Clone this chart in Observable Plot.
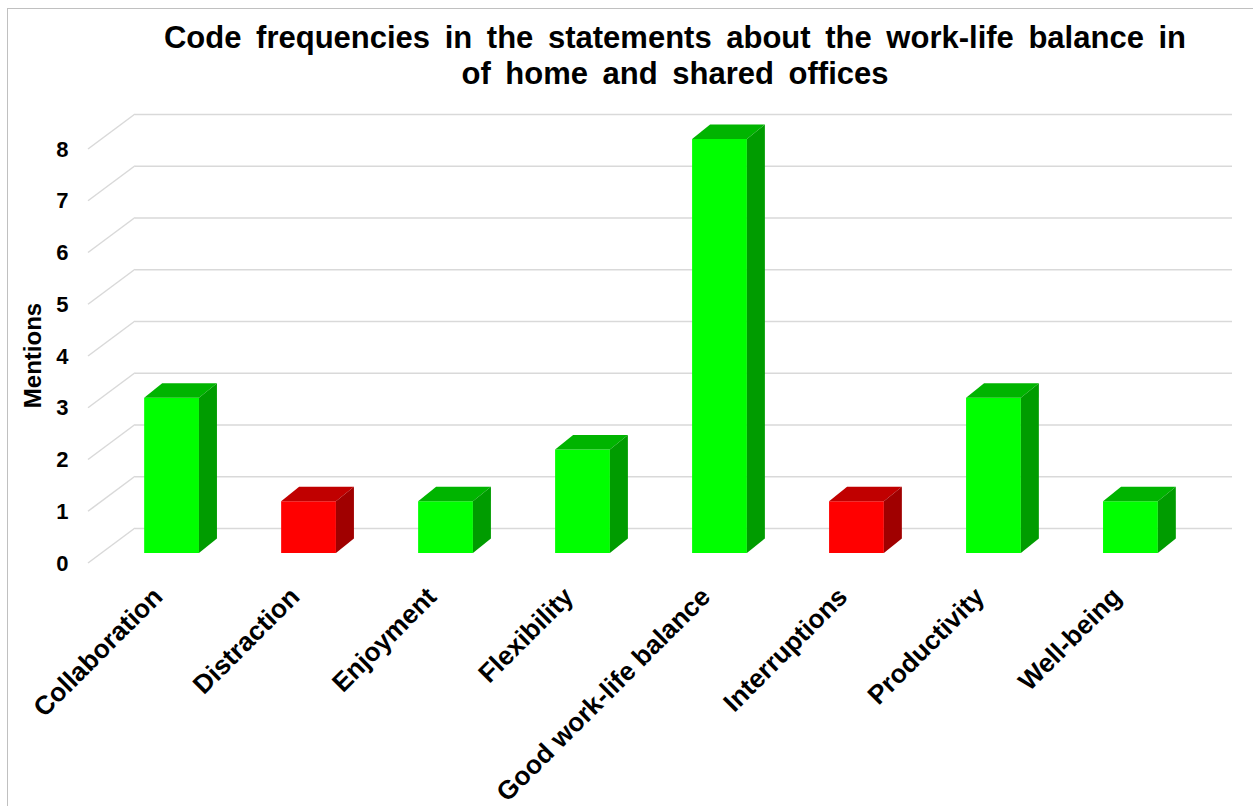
<!DOCTYPE html>
<html>
<head>
<meta charset="utf-8">
<script src="https://cdn.jsdelivr.net/npm/d3@7"></script>
<script src="https://cdn.jsdelivr.net/npm/@observablehq/plot@0.6"></script>
<style>
  html, body { margin: 0; padding: 0; background: #fff; }
  #wrap { position: relative; width: 1253px; height: 806px; overflow: hidden; background: #fff; }
  #frame { position: absolute; left: 7px; top: 8px; width: 1260px; height: 820px; border: 1.5px solid #c0c0c0; box-sizing: border-box; pointer-events: none; }
  #title { position: absolute; left: 100px; width: 1150px; top: 20px; text-align: center;
           font-family: "Liberation Sans", Arial, sans-serif; font-weight: bold; font-size: 31px; line-height: 36px; color: #000; word-spacing: 6px; }
  #chart { position: absolute; left: 0; top: 0; }
</style>
</head>
<body>
<div id="wrap">
  <div id="frame"></div>
  <div id="chart"></div>
  <div id="title">Code frequencies in the statements about the work-life balance in<br>of home and shared offices</div>
</div>
<script>
const categories = ["Collaboration", "Distraction", "Enjoyment", "Flexibility", "Good work-life balance", "Interruptions", "Productivity", "Well-being"];
const mentions = [3, 1, 1, 2, 8, 1, 3, 1];
const tone = ["positive", "negative", "positive", "positive", "positive", "negative", "positive", "positive"];
const yTicks = [0, 1, 2, 3, 4, 5, 6, 7, 8];
const yLabel = "Mentions";

const palette = {
  positive: {front: "#00ff00", top: "#00b400", side: "#009c00"},
  negative: {front: "#ff0000", top: "#c00000", side: "#a00000"}
};
const depth = {dx: 18, dy: -14.5};      // bar depth (3D look)
const wall = {dx: 47, dy: -35};         // floor depth from front axis to back wall

const data = categories.map((c, i) => ({category: c, mentions: mentions[i], tone: tone[i]}));

function bandwidthOf(scales) {
  if (scales.x && typeof scales.x.bandwidth === "function") return scales.x.bandwidth();
  if (scales.scales && scales.scales.x && scales.scales.x.bandwidth != null) return scales.scales.x.bandwidth;
  return 55;
}

// diagonal floor/side-wall gridlines
function sideGrid(index, scales, values, dimensions) {
  const g = d3.create("svg:g").attr("stroke", "#d9d9d9").attr("stroke-width", 1.5).attr("fill", "none");
  const x0 = dimensions.marginLeft;
  for (const v of yTicks) {
    const yf = scales.y(v) + 10;
    g.append("line").attr("x1", x0).attr("y1", yf).attr("x2", x0 + wall.dx).attr("y2", yf + wall.dy);
  }
  return g.node();
}

// top and side faces of the bars
function barFaces(index, scales, values, dimensions) {
  const g = d3.create("svg:g");
  const bw = bandwidthOf(scales);
  for (const d of data) {
    const xl = scales.x(d.category), xr = xl + bw;
    const yt = scales.y(d.mentions), yb = scales.y(0);
    const c = palette[d.tone];
    g.append("polygon")
      .attr("points", [[xl, yt], [xr, yt], [xr + depth.dx, yt + depth.dy], [xl + depth.dx, yt + depth.dy]].map(p => p.join(",")).join(" "))
      .attr("fill", c.top);
    g.append("polygon")
      .attr("points", [[xr, yt], [xr + depth.dx, yt + depth.dy], [xr + depth.dx, yb + depth.dy], [xr, yb]].map(p => p.join(",")).join(" "))
      .attr("fill", c.side);
  }
  return g.node();
}

const chart = Plot.plot({
  width: 1253,
  height: 806,
  marginLeft: 88,
  marginRight: 39,
  marginTop: 139,
  marginBottom: 253,
  style: {fontFamily: "'Liberation Sans', Arial, sans-serif", fontWeight: "bold", fontSize: "22px", color: "#000", background: "transparent"},
  x: {domain: categories, paddingInner: 0.6, paddingOuter: 0.41, round: false, axis: null},
  y: {domain: [0, 8], axis: null},
  marks: [
    Plot.ruleY(yTicks, {y: d => d, dy: wall.dy + 10, insetLeft: wall.dx, insetRight: -18, stroke: "#d9d9d9", strokeWidth: 1.5}),
    sideGrid,
    Plot.barY(data, {x: "category", y: "mentions", fill: d => palette[d.tone].front}),
    barFaces,
    Plot.axisY(yTicks, {tickSize: 0, tickPadding: 20, dy: 10, tickFormat: d => String(d), fontSize: 22, fontWeight: "bold", label: null}),
    Plot.text([yLabel], {text: d => d, frameAnchor: "left", textAnchor: "middle", rotate: -90, dx: -55, dy: 9, fontSize: 24, fontWeight: "bold"}),
    Plot.text(data, {x: "category", text: "category", frameAnchor: "bottom", rotate: -45, textAnchor: "end", lineAnchor: "middle", dx: -14, dy: 39, fontSize: 26.3, fontWeight: "bold"})
  ]
});
document.getElementById("chart").appendChild(chart);
</script>
</body>
</html>
